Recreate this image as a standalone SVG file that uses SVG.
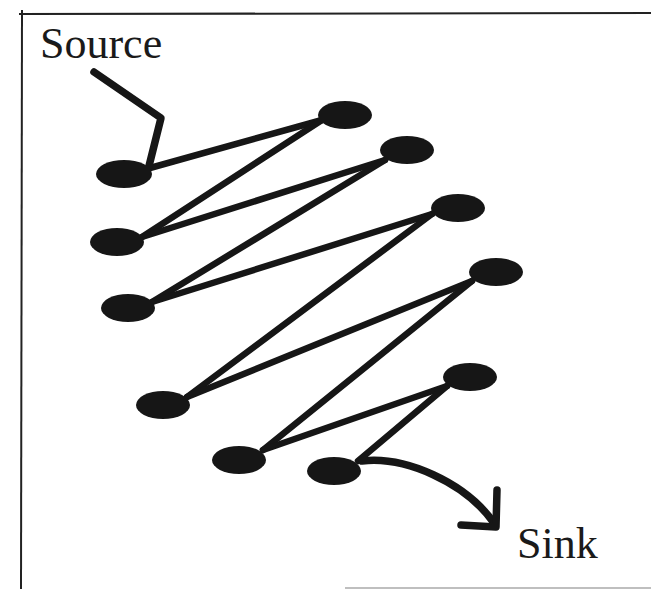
<svg xmlns="http://www.w3.org/2000/svg" width="651" height="589" viewBox="0 0 651 589">
<style>
.node{fill:#161616;}
.edge{stroke:#161616;stroke-width:6.5;stroke-linecap:round;fill:none;}
.ptr{stroke:#161616;stroke-width:7.5;stroke-linecap:round;stroke-linejoin:round;fill:none;}
.lbl{font-size:44px;fill:#1a1a1a;}
.frame{stroke:#222;stroke-width:2;fill:none;}
</style>
<rect width="651" height="589" fill="#fff"/>
<g id="frame">
<line class="frame" x1="19" y1="14" x2="651" y2="13"/>
<line class="frame" x1="22" y1="10" x2="21" y2="589"/>
<line x1="345" y1="588" x2="651" y2="588" stroke="#aaa" stroke-width="1.5"/>
</g>
<g id="connectors">
<line class="edge" x1="150" y1="168" x2="322" y2="120"/>
<line class="edge" x1="322" y1="120" x2="142" y2="237"/>
<line class="edge" x1="142" y1="237" x2="385" y2="160"/>
<line class="edge" x1="385" y1="160" x2="152" y2="302"/>
<line class="edge" x1="152" y1="302" x2="432" y2="214"/>
<line class="edge" x1="432" y1="214" x2="187" y2="397"/>
<line class="edge" x1="187" y1="397" x2="472" y2="281"/>
<line class="edge" x1="472" y1="281" x2="263" y2="450"/>
<line class="edge" x1="263" y1="450" x2="447" y2="386"/>
<line class="edge" x1="447" y1="386" x2="358" y2="461"/>
<polyline id="source-pointer" class="ptr" points="94,72 161,118 149,166"/>
<path id="sink-pointer" class="ptr" d="M362,461 C405,456 465,482 494,523"/>
<polyline id="sink-arrowhead" class="ptr" points="497,490 496,527 461,525"/>
</g>
<g id="source"><ellipse class="node" cx="124" cy="174" rx="28" ry="14"/></g>
<g id="n1"><ellipse class="node" cx="345" cy="115" rx="27" ry="14"/></g>
<g id="n2"><ellipse class="node" cx="117" cy="242" rx="27" ry="14"/></g>
<g id="n3"><ellipse class="node" cx="407" cy="150" rx="27" ry="14"/></g>
<g id="n4"><ellipse class="node" cx="128" cy="308" rx="27" ry="14"/></g>
<g id="n5"><ellipse class="node" cx="458" cy="208" rx="27" ry="14"/></g>
<g id="n6"><ellipse class="node" cx="163" cy="405" rx="27" ry="14"/></g>
<g id="n7"><ellipse class="node" cx="496" cy="272" rx="27" ry="14"/></g>
<g id="n8"><ellipse class="node" cx="239" cy="460" rx="27" ry="14"/></g>
<g id="n9"><ellipse class="node" cx="470" cy="377" rx="27" ry="14"/></g>
<g id="sink"><ellipse class="node" cx="334" cy="471" rx="27" ry="14"/></g>
<g id="labels" font-family="'Liberation Serif', 'DejaVu Serif', serif">
<text class="lbl" x="40" y="58">Source</text>
<text class="lbl" x="517" y="558">Sink</text>
</g>
</svg>
